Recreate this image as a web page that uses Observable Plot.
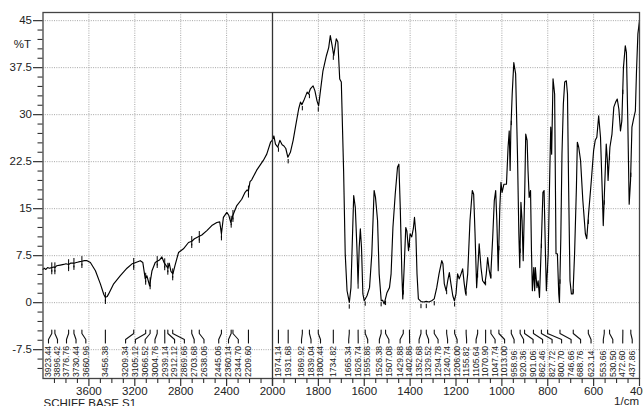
<!DOCTYPE html>
<html>
<head>
<meta charset="utf-8">
<script src="https://cdn.jsdelivr.net/npm/d3@7"></script>
<script src="https://cdn.jsdelivr.net/npm/@observablehq/plot@0.6"></script>
<style>
  html, body { margin: 0; padding: 0; background: #fff; }
  #chart svg { display: block; }
</style>
</head>
<body>
<div id="chart"></div>
<script>
// ---- data ----
const wavenumbers = [
  4000, 3990, 3975, 3960, 3945, 3923, 3905, 3896, 3880, 3850,
  3820, 3800, 3777, 3760, 3730, 3710, 3690, 3661, 3640, 3616,
  3587, 3543, 3500, 3470, 3457, 3440, 3428, 3384, 3326, 3268,
  3224, 3209, 3180, 3152, 3130, 3109, 3095, 3071, 3050, 3022,
  3005, 2985, 2964, 2945, 2930, 2911, 2900, 2885, 2868, 2850,
  2819, 2776, 2732, 2703, 2680, 2659, 2638, 2616, 2572, 2529,
  2485, 2460, 2445, 2428, 2398, 2380, 2364, 2346, 2311, 2268,
  2239, 2221, 2210, 2196, 2181, 2139, 2080, 2050, 2017, 2003,
  1994, 1987, 1977, 1968, 1958, 1950, 1942, 1933, 1922, 1910,
  1900, 1886, 1878, 1872, 1864, 1849, 1843, 1835, 1823, 1815,
  1806, 1799, 1791, 1780, 1765, 1755, 1748, 1740, 1733, 1722,
  1715, 1707, 1700, 1690, 1683, 1675, 1665, 1658, 1646, 1639,
  1632, 1627, 1622, 1617, 1612, 1606, 1600, 1588, 1577, 1567,
  1557, 1551, 1542, 1535, 1526, 1520, 1513, 1501, 1490, 1483,
  1475, 1465, 1455, 1449, 1443, 1436, 1432, 1426, 1419, 1414,
  1407, 1400, 1393, 1386, 1381, 1375, 1370, 1364, 1352, 1340,
  1330, 1318, 1306, 1295, 1284, 1274, 1262, 1257, 1251, 1243,
  1236, 1229, 1222, 1214, 1207, 1200, 1193, 1186, 1178, 1171,
  1164, 1158, 1149, 1139, 1129, 1123, 1117, 1110, 1103, 1099,
  1091, 1084, 1074, 1068, 1062, 1055, 1049, 1040, 1033, 1027,
  1022, 1016, 1009, 1004, 999, 991, 980, 973, 968, 964,
  961, 955, 948, 940, 932, 926, 922, 917, 912, 907,
  900, 896, 890, 886, 881, 875, 871, 867, 861, 857,
  854, 847, 842, 836, 829, 821, 816, 810, 806, 798,
  791, 787, 783, 777, 770, 764, 758, 752, 749, 743,
  738, 732, 726, 719, 714, 709, 703, 697, 690, 683,
  675, 671, 665, 657, 647, 636, 630, 622, 610, 600,
  593, 586, 578, 570, 562, 558, 552, 545, 540, 537,
  529, 520, 512, 504, 497, 490, 483, 477, 470, 462,
  457, 451, 445, 439, 433, 426, 418, 413, 407, 400
];
const transmittance = [
  5.3, 5.5, 5.3, 5.6, 5.5, 5.6, 5.7, 5.6, 5.9, 6.0,
  6.1, 6.2, 6.1, 6.3, 6.3, 6.4, 6.5, 6.6, 6.7, 6.7,
  6.4, 5.1, 3.0, 1.3, 0.85, 1.0, 1.4, 3.0, 4.3, 5.5,
  6.2, 6.3, 6.5, 6.7, 6.4, 3.8, 4.3, 2.7, 5.1, 6.4,
  6.6, 6.8, 7.3, 6.4, 6.0, 5.5, 6.3, 5.0, 4.6, 5.9,
  8.0, 8.6, 9.6, 9.8, 10.2, 10.4, 10.6, 10.8, 11.5, 12.3,
  12.8, 12.9, 11.0, 13.6, 14.4, 13.9, 12.8, 13.9, 15.5, 16.5,
  17.6, 18.0, 17.8, 19.3, 19.6, 21.1, 22.7, 23.7, 25.6, 25.9,
  26.6, 25.3, 24.8, 25.9, 25.2, 25.0, 24.6, 23.2, 24.0, 25.9,
  28.0, 30.9, 32.0, 31.6, 32.2, 33.6, 33.3, 34.1, 34.6, 33.8,
  32.2, 31.4, 33.8, 37.0, 39.4, 40.7, 42.6, 41.0, 39.4, 42.1,
  41.6, 35.7, 35.2, 21.1, 7.8, 1.9, 0.05, 2.4, 17.1, 15.2,
  8.8, 3.0, 8.8, 11.8, 8.8, 1.4, 0.3, 1.1, 2.4, 7.8,
  17.9, 16.8, 13.1, 4.6, 0.3, 0.4, -0.2, 1.6, 2.4, 4.6,
  12.0, 17.3, 21.6, 22.1, 15.2, 4.6, 0.6, 5.6, 12.0, 11.4,
  8.3, 11.0, 10.5, 11.8, 13.6, 11.0, 4.6, 0.6, 0.16, 0.1,
  0.2, 0.1, 0.3, 0.6, 2.4, 4.6, 6.7, 6.2, 3.0, 1.9,
  3.5, 4.8, 3.0, 1.1, 0.3, 1.4, 4.6, 3.8, 4.6, 5.4,
  3.0, 1.4, 4.6, 13.1, 17.9, 17.3, 11.0, 2.4, 6.7, 9.4,
  5.6, 3.5, 3.0, 4.6, 7.2, 5.1, 4.0, 10.4, 16.3, 17.9,
  13.1, 5.1, 15.2, 19.2, 17.6, 18.9, 18.9, 24.8, 27.4, 21.1,
  27.4, 33.3, 38.3, 36.5, 23.7, 11.0, 5.6, 16.0, 13.1, 6.7,
  18.4, 26.9, 25.9, 21.1, 16.8, 17.9, 8.3, 1.9, 5.6, 1.9,
  5.6, 2.4, 3.5, 0.85, 8.3, 17.6, 17.9, 7.8, 1.9, 7.8,
  21.1, 28.0, 23.7, 35.7, 33.3, 7.8, 7.8, 1.4, 0.05, 10.4,
  23.7, 31.7, 35.2, 35.4, 33.3, 18.4, 3.5, 1.4, 1.4, 7.8,
  18.4, 25.6, 24.8, 22.7, 16.3, 11.0, 10.2, 14.2, 19.5, 24.3,
  25.9, 26.4, 29.8, 26.4, 17.3, 12.3, 18.4, 25.3, 22.7, 19.5,
  24.8, 26.9, 31.2, 32.0, 32.5, 30.9, 27.4, 29.0, 37.5, 41.0,
  39.9, 29.0, 15.7, 19.5, 28.0, 29.3, 30.6, 37.0, 42.9, 45.0
];
const peakWavenumbers = [
  3923.44, 3896.42, 3776.76, 3730.44, 3660.96, 3456.38, 3209.34, 3105.12, 3066.52, 3004.76,
  2939.14, 2912.12, 2869.66, 2703.68, 2638.06, 2445.06, 2360.14, 2344.70, 2209.60,
  1974.14, 1931.68, 1869.92, 1839.04, 1800.44, 1734.82, 1665.34, 1626.74, 1595.86, 1526.38,
  1507.08, 1429.88, 1402.86, 1352.68, 1329.52, 1294.78, 1240.74, 1206.00, 1155.82, 1105.64,
  1070.90, 1047.74, 1013.00, 958.96, 920.36, 901.06, 862.46, 827.72, 800.70, 746.66,
  688.76, 623.14, 553.66, 530.50, 472.60, 437.86
];
const xMajorTicks = [3600, 3200, 2800, 2400, 2000, 1800, 1600, 1400, 1200, 1000, 800, 600, 400];
const xGrid = [3600, 3200, 2800, 2400, 1800, 1600, 1400, 1200, 1000, 800, 600];
const yMajorTicks = [-7.5, 0, 7.5, 15, 22.5, 30, 37.5, 45];
const yTickLabels = ["-7.5", "0", "7.5", "15", "22.5", "30", "37.5", "45"];
const yAxisTitle = "%T";
const xAxisTitle = "1/cm";
const sampleName = "SCHIFF BASE S1";

// ---- layout ----
const W = 643, H = 406;
const mL = 42.5, mR = 4, mT = 12, mB = 28;
const xDomain = [4000, 2000, 400];
const xRange = [mL, 272, W - mR];
const yDomain = [-12.1, 46.3];
const xs = d3.scaleLinear().domain(xDomain).range(xRange);
const ys = d3.scaleLinear().domain(yDomain).range([H - mB, mT]);
const yv = (px) => ys.invert(px);   // pixel -> value
const xv = (px) => xs.invert(px);

const spectrum = wavenumbers.map((w, i) => ({w, t: transmittance[i]}));
function interp(w) {
  for (let i = 0; i < wavenumbers.length - 1; i++) {
    const a = wavenumbers[i], b = wavenumbers[i + 1];
    if (w <= a && w >= b) {
      const f = (a - w) / (a - b);
      return transmittance[i] + f * (transmittance[i + 1] - transmittance[i]);
    }
  }
  return transmittance[transmittance.length - 1];
}

// label placement: least-squares with a minimum gap (pool adjacent violators)
function spreadLS(p, d) {
  const r = p.map((v, i) => v - i * d);
  const blocks = [];
  for (const v of r) {
    blocks.push({s: v, n: 1});
    while (blocks.length > 1) {
      const b2 = blocks[blocks.length - 1], b1 = blocks[blocks.length - 2];
      if (b1.s / b1.n > b2.s / b2.n) { blocks.pop(); b1.s += b2.s; b1.n += b2.n; } else break;
    }
  }
  const out = []; let i = 0;
  for (const b of blocks) { const m = b.s / b.n; for (let k = 0; k < b.n; k++) { out.push(m + i * d); i++; } }
  return out;
}
function spreadGreedy(p, d, start) {
  const out = []; let prev = start - d;
  for (const v of p) { const q = Math.max(v, prev + d); out.push(q); prev = q; }
  return out;
}
const natural = peakWavenumbers.map(w => xs(w));
const leftIdx = peakWavenumbers.map((w, i) => i).filter(i => peakWavenumbers[i] > 2000);
const rightIdx = peakWavenumbers.map((w, i) => i).filter(i => peakWavenumbers[i] <= 2000);
const placed = new Array(natural.length);
{
  const pl = spreadGreedy(spreadLS(leftIdx.map(i => natural[i]), 9.8), 9.0, 48);
  leftIdx.forEach((i, k) => placed[i] = pl[k]);
  const pr = rightIdx.map(i => natural[i]);
  const a = spreadLS(pr, 9.5), b = spreadGreedy(pr, 9.5, 0);
  rightIdx.forEach((i, k) => placed[i] = 0.45 * a[k] + 0.55 * b[k]);
}
const peaks = peakWavenumbers.map((w, i) => ({
  w, t: interp(w), label: w.toFixed(2), lw: xv(placed[i]), id: i
}));

const leaders = [];
for (const p of peaks) {
  leaders.push({id: p.id, x: p.w, y: yv(329.5)});
  leaders.push({id: p.id, x: p.w, y: yv(333)});
  leaders.push({id: p.id, x: p.lw, y: yv(339)});
  leaders.push({id: p.id, x: p.lw, y: yv(342.5)});
}

const xMinorTicks = [];
for (let w = 3900; w > 2000; w -= 100) if (w % 400 !== 0) xMinorTicks.push(w);
for (let w = 1950; w > 400; w -= 50) if (w % 200 !== 0) xMinorTicks.push(w);
const yMinorTicks = [];
for (let k = -7; k <= 30; k++) { const v = k * 1.5; if (k % 5 !== 0) yMinorTicks.push(v); }

const font = "'Liberation Sans', Arial, Helvetica, sans-serif";
const gridStyle = {stroke: "#9c9c9c", strokeWidth: 0.9, strokeDasharray: "1,1.3"};

const chart = Plot.plot({
  width: W, height: H,
  marginLeft: mL, marginRight: mR, marginTop: mT, marginBottom: mB,
  x: {type: "linear", domain: xDomain, range: xRange, axis: null},
  y: {domain: yDomain, axis: null},
  style: {fontFamily: font, background: "#fff", color: "#222", overflow: "visible"},
  marks: [
    Plot.ruleX(xGrid, gridStyle),
    Plot.ruleY(yMajorTicks, gridStyle),
    // spectrum
    Plot.line(spectrum, {x: "w", y: "t", stroke: "#000", strokeWidth: 1.15, curve: "linear"}),
    // peak markers
    Plot.ruleX(peaks.filter(p => p.w > 2000), {x: "w", y1: d => d.t + 0.75, y2: d => d.t - 0.75, stroke: "#000", strokeWidth: 1}),
    Plot.ruleX(peaks, {x: "w", y1: d => d.t - 0.45, y2: d => d.t - 1.15, stroke: "#000", strokeWidth: 1}),
    // leader lines and peak labels
    Plot.line(leaders, {x: "x", y: "y", z: "id", stroke: "#111", strokeWidth: 1.1}),
    Plot.text(peaks, {x: "lw", y: yv(376.5), text: "label", rotate: -90, textAnchor: "start",
      fontSize: 8.6, fill: "#222"}),
    // frame and 2000 break line
    Plot.frame({stroke: "#444", strokeWidth: 1.3}),
    Plot.ruleX([2000], {y1: yv(H - mB + 8), y2: yDomain[1], stroke: "#333", strokeWidth: 1.3}),
    // x ticks
    Plot.ruleX(xMajorTicks, {y1: yv(H - mB), y2: yv(H - mB + 8), stroke: "#333", strokeWidth: 1.2}),
    Plot.ruleX(xMinorTicks, {y1: yv(H - mB), y2: yv(H - mB + 5), stroke: "#333", strokeWidth: 1.1}),
    Plot.text(xMajorTicks, {x: d => d, y: yv(390.5), text: d => String(d), fontSize: 11.5, fill: "#222"}),
    // y ticks
    Plot.ruleY(yMajorTicks, {x1: xv(33), x2: xv(mL), stroke: "#333", strokeWidth: 1.2}),
    Plot.ruleY(yMinorTicks, {x1: xv(37.5), x2: xv(mL), stroke: "#333", strokeWidth: 1.1}),
    Plot.text(yMajorTicks, {x: xv(31.5), y: d => d, text: (d, i) => yTickLabels[i], textAnchor: "end", fontSize: 11.5, fill: "#222"}),
    // titles
    Plot.text([yAxisTitle], {x: xv(30.5), y: yv(43.5), text: d => d, textAnchor: "end", fontSize: 11.5, fill: "#222"}),
    Plot.text([xAxisTitle], {x: xv(638.5), y: yv(400.5), text: d => d, textAnchor: "end", fontSize: 11.5, fill: "#222"}),
    Plot.text([sampleName], {x: xv(43), y: yv(402.5), text: d => d, textAnchor: "start", fontSize: 11.5, fill: "#222"})
  ]
});
document.getElementById("chart").appendChild(chart);
</script>
</body>
</html>
